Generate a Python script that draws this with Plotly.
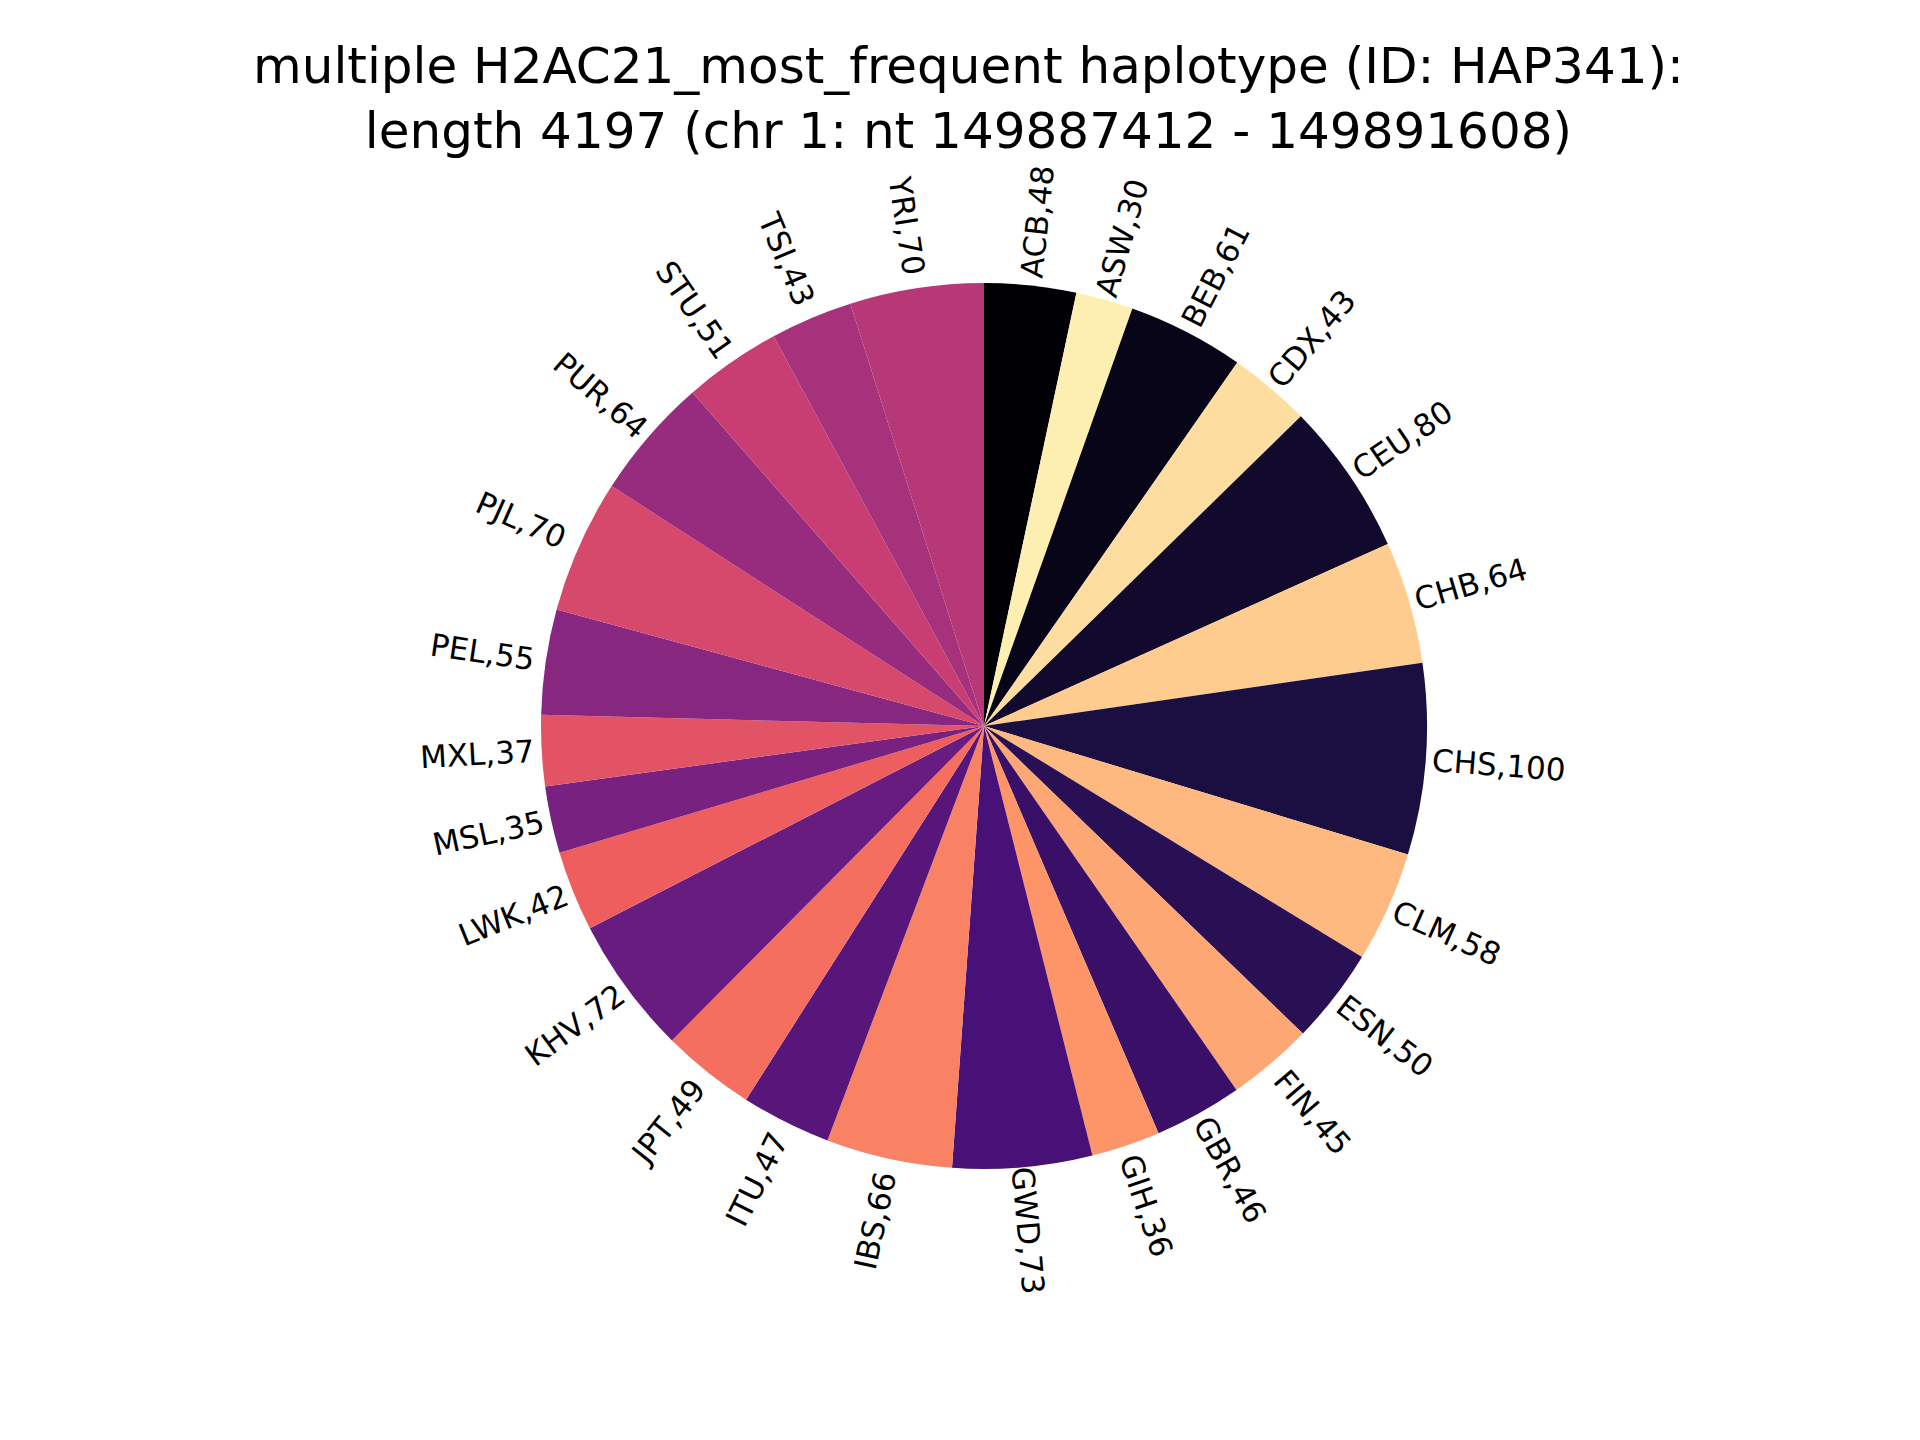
import math
import plotly.graph_objects as go
from plotly.colors import sample_colorscale

pops = ['ACB', 'ASW', 'BEB', 'CDX', 'CEU', 'CHB', 'CHS', 'CLM', 'ESN', 'FIN', 'GBR', 'GIH', 'GWD',
        'IBS', 'ITU', 'JPT', 'KHV', 'LWK', 'MSL', 'MXL', 'PEL', 'PJL', 'PUR', 'STU', 'TSI', 'YRI']
counts = [48, 30, 61, 43, 80, 64, 100, 58, 50, 45, 46, 36, 73,
          66, 47, 49, 72, 42, 35, 37, 55, 70, 64, 51, 43, 70]

W, H = 1920, 1440
cx, cy, R = 976, 718, 443
fs = 31

# magma-like palette, interleaved from both ends
n = len(pops)
base = sample_colorscale('Magma', [i / (n - 1) * 0.97 for i in range(n)])
order = []
lo, hi = 0, n - 1
while lo <= hi:
    order.append(base[lo]); lo += 1
    if lo <= hi:
        order.append(base[hi]); hi -= 1
colors = order

fig = go.Figure(go.Pie(
    labels=pops, values=counts, sort=False, direction='clockwise', rotation=0,
    marker=dict(colors=colors, line=dict(width=0)), textinfo='none', hoverinfo='label+value',
    domain=dict(x=[(cx - R) / W, (cx + R) / W], y=[(H - cy - R) / H, (H - cy + R) / H]),
    showlegend=False,
))

total = sum(counts)
cum = 0
for p, c in zip(pops, counts):
    mid = cum + c / 2
    cum += c
    theta = 90 - mid / total * 360  # math angle, degrees
    t = math.radians(theta)
    text = f'{p},{c}'
    half = len(text) * 0.6 * fs / 2
    r = R + 8 + half
    x = cx + r * math.cos(t)
    y = cy - r * math.sin(t)
    ang = ((theta + 180) % 360) - 180
    if ang > 90 or ang < -90:
        ang += 180
    fig.add_annotation(x=x / W, y=1 - y / H, xref='paper', yref='paper', text=text,
                       showarrow=False, textangle=-ang, xanchor='center', yanchor='middle',
                       font=dict(size=fs, color='black'))

fig.add_annotation(x=0.5, y=1 - 90 / H, xref='paper', yref='paper', showarrow=False,
                   text='multiple H2AC21_most_frequent haplotype (ID: HAP341):<br>length 4197 (chr 1: nt 149887412 - 149891608)',
                   font=dict(size=50, color='black'), yanchor='middle')

fig.update_layout(width=W, height=H, margin=dict(l=0, r=0, t=0, b=0),
                  paper_bgcolor='white', plot_bgcolor='white',
                  font=dict(family='DejaVu Sans'))
fig.write_html('out.html')
